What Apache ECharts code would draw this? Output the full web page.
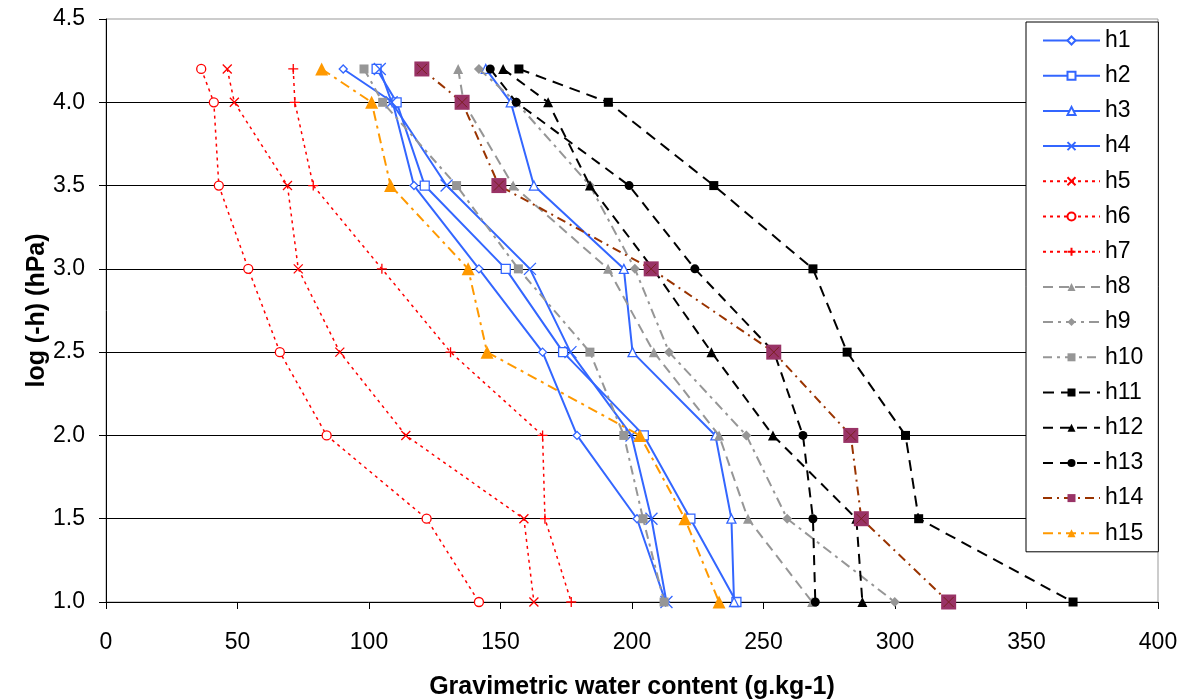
<!DOCTYPE html>
<html>
<head>
<meta charset="utf-8">
<script src="https://cdn.jsdelivr.net/npm/echarts@6/dist/echarts.min.js"></script>
<style>html,body{margin:0;padding:0;background:#fff}#c{width:1187px;height:700px}</style>
</head>
<body>
<div id="c"></div>
<script>
// log(-h) levels (y values), shared by all series
var levels = [4.2, 4.0, 3.5, 3.0, 2.5, 2.0, 1.5, 1.0];
// gravimetric water content (x values) per series
var h1  = [90.2, 109.0, 117.1, 141.8, 166.0, 179.1, 201.9, 212.8];
var h2  = [102.9, 110.5, 121.2, 152.0, 173.8, 204.5, 222.2, 239.7];
var h3  = [144.4, 153.9, 162.7, 196.9, 200.2, 231.7, 237.8, 238.8];
var h4  = [104.1, 108.6, 129.5, 161.2, 176.6, 199.8, 207.4, 213.1];
var h5  = [46.1, 48.8, 69.0, 73.1, 88.9, 114.0, 158.9, 162.7];
var h6  = [36.2, 41.0, 42.9, 54.1, 66.1, 83.9, 121.9, 141.8];
var h7  = [71.2, 71.8, 78.8, 104.9, 131.0, 166.0, 166.9, 176.9];
var h8  = [133.9, 136.0, 154.8, 190.9, 208.3, 233.1, 244.1, 268.5];
var h9  = [141.8, 156.0, 184.0, 201.1, 214.1, 243.5, 259.0, 299.9];
var h10 = [98.1, 105.2, 133.3, 156.8, 184.0, 196.9, 204.2, 212.2];
var h11 = [157.0, 191.0, 231.1, 268.8, 281.8, 304.0, 309.0, 367.7];
var h12 = [151.0, 168.1, 184.0, 208.0, 230.2, 253.6, 285.3, 287.6];
var h13 = [146.1, 156.0, 198.9, 223.9, 254.0, 265.0, 268.8, 269.7];
var h14 = [120.1, 135.4, 149.4, 207.3, 253.9, 283.2, 287.2, 320.4];
var h15 = [82.0, 101.0, 108.2, 137.7, 144.9, 203.0, 220.1, 233.1];
var seriesNames = ['h1','h2','h3','h4','h5','h6','h7','h8','h9','h10','h11','h12','h13','h14','h15'];
var seriesValues = [h1,h2,h3,h4,h5,h6,h7,h8,h9,h10,h11,h12,h13,h14,h15];
var xTicks = [0, 400, 50];
var yTicks = [1.0, 4.5, 0.5];

var FONT = 'Liberation Sans, Arial, sans-serif';
var BLUE = '#3366FF', RED = '#FF0000', GRAY = '#969696', BLACK = '#000000', BROWN = '#993300', ORANGE = '#FF9900';
var XSYM = 'path://M0,0L10,10M10,0L0,10';
var PSYM = 'path://M5,0L5,10M0,5L10,5';

var styles = {
  h1:  {c: BLUE, w: 2, dash: 'solid', sym: 'diamond', size: 8, hollow: true},
  h2:  {c: BLUE, w: 2, dash: 'solid', sym: 'rect', size: 9, hollow: true},
  h3:  {c: BLUE, w: 2, dash: 'solid', sym: 'triangle', size: 9, hollow: true},
  h4:  {c: BLUE, w: 2, dash: 'solid', sym: XSYM, size: 12, hollow: true},
  h5:  {c: RED, w: 1.5, dash: [3, 4], sym: XSYM, size: 9, hollow: true},
  h6:  {c: RED, w: 1.5, dash: [3, 4], sym: 'circle', size: 9, hollow: true},
  h7:  {c: RED, w: 1.5, dash: [3, 4], sym: PSYM, size: 10, hollow: true},
  h8:  {c: GRAY, w: 2, dash: [10, 6], sym: 'triangle', size: 10},
  h9:  {c: GRAY, w: 2, dash: [10, 5, 3, 5], sym: 'diamond', size: 10},
  h10: {c: GRAY, w: 2, dash: [9, 5, 3, 5], sym: 'rect', size: 9},
  h11: {c: BLACK, w: 2, dash: [11, 7], sym: 'rect', size: 9},
  h12: {c: BLACK, w: 2, dash: [10, 7], sym: 'triangle', size: 10},
  h13: {c: BLACK, w: 2, dash: [10, 7], sym: 'circle', size: 9},
  h14: {c: BROWN, w: 2, dash: [9, 5, 2, 5], sym: 'rect', size: 15, fill: '#993366'},
  h15: {c: ORANGE, w: 2, dash: [10, 5, 3, 5], sym: 'triangle', size: 13}
};

function pairs(vals) {
  return vals.map(function (v, i) { return [v, levels[i]]; });
}

var series = seriesNames.map(function (name, i) {
  var s = styles[name];
  var item;
  if (s.hollow) {
    item = {color: '#ffffff', borderColor: s.c, borderWidth: 1.3};
  } else {
    item = {color: s.fill || s.c, borderColor: s.fill || s.c, borderWidth: 0};
  }
  return {
    name: name,
    type: 'line',
    data: pairs(seriesValues[i]),
    symbol: s.sym,
    symbolSize: s.size,
    showAllSymbol: true,
    lineStyle: {color: s.c, width: s.w, type: s.dash},
    itemStyle: item,
    emphasis: {disabled: true},
    animation: false,
    z: 2 + i
  };
});
// X overlay on h14 markers
series.push({
  name: 'h14x',
  type: 'line',
  data: pairs(h14),
  symbol: XSYM,
  symbolSize: 10,
  lineStyle: {width: 0, opacity: 0},
  itemStyle: {color: 'none', borderColor: '#7a1f1f', borderWidth: 1},
  emphasis: {disabled: true},
  animation: false,
  z: 40
});

var chart = echarts.init(document.getElementById('c'), null, {renderer: 'canvas'});
chart.setOption({
  animation: false,
  backgroundColor: '#ffffff',
  grid: {left: 106, right: 29, top: 19, bottom: 98, outerBoundsMode: 'none', containLabel: false,
    show: true, borderColor: '#999999', borderWidth: 1, backgroundColor: 'transparent'},
  legend: {
    orient: 'vertical',
    left: 1026,
    top: 22,
    data: seriesNames,
    itemWidth: 57,
    itemHeight: 10,
    itemGap: 12.2,
    padding: [7, 15, 7, 16],
    borderColor: '#000000',
    borderWidth: 1,
    backgroundColor: '#ffffff',
    textStyle: {fontFamily: FONT, fontSize: 23, color: '#000', lineHeight: 23},
    selectedMode: false
  },
  xAxis: {
    type: 'value',
    min: xTicks[0], max: xTicks[1], interval: xTicks[2],
    name: 'Gravimetric water content (g.kg-1)',
    nameLocation: 'middle',
    nameGap: 73,
    nameMoveOverlap: false,
    nameTextStyle: {fontFamily: FONT, fontSize: 25, fontWeight: 'bold', color: '#000'},
    axisLine: {show: true, onZero: false, lineStyle: {color: '#000', width: 1}},
    axisTick: {show: true, inside: false, length: 7, lineStyle: {color: '#000'}},
    axisLabel: {fontFamily: FONT, fontSize: 23, color: '#000', margin: 29},
    splitLine: {show: false}
  },
  yAxis: {
    type: 'value',
    min: yTicks[0], max: yTicks[1], interval: yTicks[2],
    name: 'log (-h) (hPa)',
    nameLocation: 'middle',
    nameGap: 56,
    nameMoveOverlap: false,
    nameTextStyle: {fontFamily: FONT, fontSize: 25, fontWeight: 'bold', color: '#000'},
    axisLine: {show: true, onZero: false, lineStyle: {color: '#000', width: 1}},
    axisTick: {show: true, inside: false, length: 7, lineStyle: {color: '#000'}},
    axisLabel: {fontFamily: FONT, fontSize: 23, color: '#000', margin: 21,
      formatter: function (v) { return v.toFixed(1); }},
    splitLine: {show: true, showMaxLine: false, showMinLine: false, lineStyle: {color: '#000', width: 1}}
  },
  series: series
});
</script>
</body>
</html>
